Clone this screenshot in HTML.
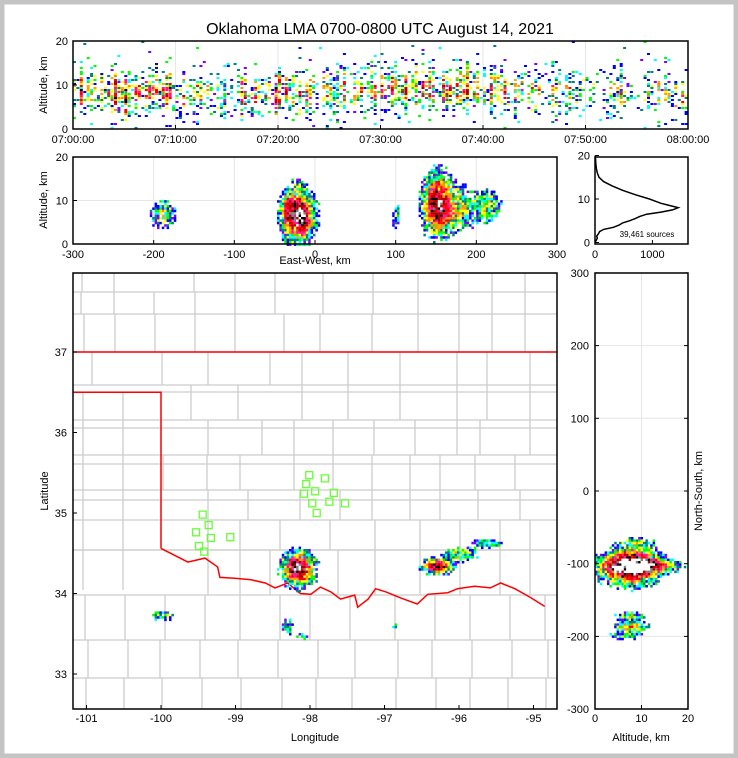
<!DOCTYPE html>
<html><head><meta charset="utf-8"><style>
html,body{margin:0;padding:0;background:#fff}
svg{display:block;font-family:"Liberation Sans","DejaVu Sans",sans-serif}
</style></head><body>
<svg id="fig" width="738" height="758" viewBox="0 0 738 758">
<rect x="2" y="2" width="734" height="754" fill="#fff" stroke="#c4c4c4" stroke-width="5"/>
<text x="380" y="34" font-size="16" text-anchor="middle">Oklahoma LMA 0700-0800 UTC August 14, 2021</text>
<g id="gTime"></g>
<g id="gEW"></g>
<g id="gHist"></g>
<g id="gMap"></g>
<g id="gNS"></g>
</svg>
<script>
// ---------- data ----------
const minuteActivity=[0.9,0.95,0.9,0.95,0.9,1,0.95,0.9,0.85,0.8,0.6,0.55,0.5,0.55,0.7,0.65,0.7,0.75,0.7,0.8,0.75,0.8,0.75,0.7,0.8,0.85,0.8,0.8,0.75,0.7,0.7,0.75,0.7,0.75,0.7,0.7,0.8,0.75,0.8,0.8,0.75,0.7,0.7,0.65,0.7,0.6,0.55,0.6,0.55,0.5,0.5,0.45,0.5,0.5,0.45,0.45,0.5,0.45,0.4,0.5];
const minuteAltMid=[8.5,8.5,8,8,8,7.5,8,8,8.5,8,7.5,8,8,8,7.5,7.5,7.5,7.5,8,8,8,8,8,8.5,8.5,8.5,8.5,8.5,9,9,9,9,9,9,9,8.5,8.5,8.5,9,9,9,9,8.5,8.5,8,8,8,8,8,8,7.5,7.5,7.5,8,8,8,8,8,7.5,7];
const timeTicks=["07:00:00","07:10:00","07:20:00","07:30:00","07:40:00","07:50:00","08:00:00"];
// storm cells: east-west km, north-south km, altitude km, spreads, weight
const cellEW=[-22,150,178,212,-190,-36,-18,98];
const cellNS=[-105,-102,-86,-70,-170,-185,-198,-186];
const cellAlt=[7,9.5,8.5,9,7,8,6,7];
const cellSEW=[12,11,13,11,10,5,5,4];
const cellSNS=[14,6,6,4,4,7,4,3];
const cellSAlt=[3.8,4.2,3.2,2.6,2,2.5,2,2.2];
const cellW=[1.0,1.0,0.4,0.35,0.35,0.3,0.25,0.22];
const histAlt=[0,1,1.5,2,2.5,3,3.5,4,4.5,5,5.5,6,6.5,7,7.5,8,8.5,9,9.5,10,11,12,13,14,15,16,17,18,19,20];
const histCount=[0,40,30,60,80,150,320,420,480,600,700,780,900,1150,1350,1450,1300,1150,1050,950,700,480,300,150,70,40,25,15,10,5];
const histTicksX=[0,1000];
const altTicks=[0,10,20];
const ewTicks=[-300,-200,-100,0,100,200,300];
const nsTicks=[300,200,100,0,-100,-200,-300];
const lonTicks=[-101,-100,-99,-98,-97,-96,-95];
const latTicks=[37,36,35,34,33];
const stationLon=[-98.01,-97.80,-98.05,-97.93,-97.68,-98.08,-97.97,-97.74,-97.53,-97.91,-99.44,-99.36,-99.53,-99.33,-99.07,-99.49,-99.42];
const stationLat=[35.47,35.43,35.36,35.27,35.25,35.24,35.12,35.14,35.12,35.00,34.98,34.85,34.76,34.69,34.70,34.59,34.52];
const borderLon=[-101.2,-100.0,-100.0];
const borderLat=[36.5,36.5,34.56];
const riverLon=[-100.0,-99.87,-99.64,-99.41,-99.24,-99.21,-99.01,-98.79,-98.60,-98.47,-98.30,-98.26,-98.13,-97.99,-97.86,-97.72,-97.59,-97.40,-97.36,-97.22,-97.12,-96.98,-96.77,-96.56,-96.42,-96.15,-96.02,-95.79,-95.58,-95.44,-95.25,-95.04,-94.85];
const riverLat=[34.56,34.50,34.39,34.44,34.33,34.20,34.19,34.17,34.13,34.07,34.13,34.10,34.00,33.99,34.08,34.02,33.93,33.98,33.83,33.93,34.06,34.02,33.94,33.87,33.99,34.01,34.06,34.09,34.07,34.13,34.06,33.95,33.84];

// ---------- helpers ----------
const NS="http://www.w3.org/2000/svg";
function mk(parent,tag,attrs,text){const e=document.createElementNS(NS,tag);for(const k in attrs)e.setAttribute(k,attrs[k]);if(text!==undefined)e.textContent=text;parent.appendChild(e);return e;}
function hash(a,b,c){let h=(a*374761393+b*668265263+c*2147483647)|0;h=(h^(h>>>13))*1274126177|0;h=h^(h>>>16);return ((h>>>0)%10000)/10000;}
const lowCols=["#0000ff","#7f00ff","#00ffff","#00ff00","#008080","#0000ff"];
function colorFor(v,h){
  if(v<0.2)return lowCols[Math.floor(h*6)%6];
  if(v<0.35)return ["#00ff00","#ffff00","#008080","#00ffff"][Math.floor(h*4)%4];
  if(v<0.5)return ["#ffff00","#ffa500","#ff8c00"][Math.floor(h*3)%3];
  if(v<0.7)return ["#ff0000","#ff1493"][Math.floor(h*2)%2];
  if(v<0.86)return "#b00000";
  if(v<0.96)return "#000000";
  if(v<1.06)return "#808080";
  return "#ffffff";
}
function frame(g,x,y,w,h,name){const r=mk(g,"rect",{x:x,y:y,width:w,height:h,fill:"none",stroke:"#000","stroke-width":1.5});}
function label(g,x,y,txt,anchor,size,name,rot){const a={x:x,y:y,"font-size":size,"text-anchor":anchor};if(rot)a.transform="rotate(-90 "+x+" "+y+")";const t=mk(g,"text",a,txt);return t;}
function density(a1,v1,a2,v2){let d=0;for(let i=0;i<cellW.length;i++){const z1=(v1-a1[i].c)/a1[i].s,z2=(v2-a2[i].c)/a2[i].s;d+=cellW[i]*Math.exp(-0.5*(z1*z1+z2*z2));}return d;}
function arr(c,s){return c.map((v,i)=>({c:v,s:s[i]}));}
function scatter(gd,x0,x1,y0,y1,step,seed,fn){
 for(let px=x0;px<x1;px+=step){for(let py=y0;py<y1;py+=step){
  const d=fn(px,py);if(d<0.02)continue;
  const ix=Math.round(px*5),iy=Math.round(py*5);
  const h=hash(ix,iy,seed);
  if(d*(0.25+1.1*h)>0.1){
   const v=d*(0.6+0.6*hash(ix,iy,seed+2));
   mk(gd,"rect",{x:px.toFixed(1),y:py.toFixed(1),width:step+0.1,height:step+0.1,fill:colorFor(v,hash(iy,ix,seed+4))});
  }
 }}
}

// ---------- time-height panel ----------
(function(){
 const g=document.getElementById('gTime');
 const X0=73,X1=688,Y0=129,Y1=41;
 const xs=t=>X0+(t/60)*(X1-X0), ys=a=>Y0-(a/20)*(Y0-Y1);
 for(let i=1;i<6;i++){const l=mk(g,"line",{x1:xs(i*10),x2:xs(i*10),y1:Y1,y2:Y0,stroke:"#e6e6e6"});}
 const gd=mk(g,"g",{});
 const ncol=Math.floor((X1-X0)/3.4);
 for(let c=0;c<ncol;c++){
  const t=c*60/ncol, m=Math.min(59,Math.floor(t));
  const act=minuteActivity[m], mid=minuteAltMid[m];
  const colAct=act*(0.2+1.1*hash(c,7,1));
  for(let r=0;r<44;r++){
   const alt=r*20/44;
   const z=(alt-mid)/3.4;
   const d=colAct*Math.exp(-0.5*z*z);
   const h=hash(c,r,3);
   if(h<d*0.95 || (h<0.012 && alt>2)){
    mk(gd,"rect",{x:xs(t).toFixed(1),y:(ys(alt)-2).toFixed(1),width:3,height:2,fill:colorFor(d*(0.3+0.7*hash(c,r,9)),hash(r,c,5))});
   }
  }
 }
 frame(g,X0,Y1,X1-X0,Y0-Y1,'time-panel-frame');
 altTicks.forEach(v=>{mk(g,"line",{x1:X0,x2:X0+4,y1:ys(v),y2:ys(v),stroke:"#000"});label(g,X0-5,ys(v)+4,String(v),"end",11,'time-y-tick');});
 timeTicks.forEach((s,i)=>{const x=xs(i*10);mk(g,"line",{x1:x,x2:x,y1:Y0,y2:Y0-4,stroke:"#000"});label(g,x,143,s,"middle",11,'time-x-tick');});
 label(g,47,85,"Altitude, km","middle",11,'time-y-axis-title',true);
})();

// ---------- east-west vs altitude ----------
(function(){
 const g=document.getElementById('gEW');
 const X0=73,X1=557,Y0=244,Y1=157;
 const xs=v=>X0+(v+300)/600*(X1-X0), ys=a=>Y0-(a/20)*(Y0-Y1);
 ewTicks.forEach(v=>{if(v>-300&&v<300){mk(g,"line",{x1:xs(v),x2:xs(v),y1:Y1,y2:Y0,stroke:"#e6e6e6"});}});
 mk(g,"line",{x1:X0,x2:X1,y1:ys(10),y2:ys(10),stroke:"#e6e6e6"});
 const A=arr(cellEW,cellSEW),B=arr(cellAlt,cellSAlt);
 const gd=mk(g,"g",{});
 scatter(gd,X0,X1,Y1,Y0,2.4,11,(px,py)=>density(A,(px-X0)/(X1-X0)*600-300,B,(Y0-py)/(Y0-Y1)*20));
 frame(g,X0,Y1,X1-X0,Y0-Y1,'ew-panel-frame');
 altTicks.forEach(v=>{mk(g,"line",{x1:X0,x2:X0+4,y1:ys(v),y2:ys(v),stroke:"#000"});label(g,X0-5,ys(v)+4,String(v),"end",11,'ew-y-tick');});
 ewTicks.forEach(v=>{mk(g,"line",{x1:xs(v),x2:xs(v),y1:Y0,y2:Y0-4,stroke:"#000"});label(g,xs(v),258,String(v),"middle",11,'ew-x-tick');});
 label(g,315,264,"East-West, km","middle",11,'ew-x-axis-title');
 label(g,47,200,"Altitude, km","middle",11,'ew-y-axis-title',true);
})();

// ---------- histogram ----------
(function(){
 const g=document.getElementById('gHist');
 const X0=595,X1=688,Y0=244,Y1=157,XMAX=1620;
 const xs=v=>X0+v/XMAX*(X1-X0), ys=a=>Y0-(a/20)*(Y0-Y1)-1.5;
 const pts=histAlt.map((a,i)=>xs(histCount[i]).toFixed(1)+","+ys(a).toFixed(1)).join(" ");
 const pl=mk(g,"polyline",{points:pts,fill:"none",stroke:"#000","stroke-width":1.5});
 
 frame(g,X0,Y1,X1-X0,Y0-Y1,'hist-panel-frame');
 altTicks.forEach(v=>{mk(g,"line",{x1:X0,x2:X0+4,y1:ys(v),y2:ys(v),stroke:"#000"});label(g,X0-5,ys(v)+4,String(v),"end",11,'hist-y-tick');});
 histTicksX.forEach(v=>{mk(g,"line",{x1:xs(v),x2:xs(v),y1:Y0,y2:Y0-4,stroke:"#000"});label(g,xs(v),258,String(v),"middle",11,'hist-x-tick');});
 label(g,647,237,"39,461 sources","middle",8,'source-count-label');
})();

// ---------- map ----------
(function(){
 const g=document.getElementById('gMap');
 const X0=73,X1=557,Y0=709,Y1=273;
 const lx=lon=>310+(lon+98)*74.5, ly=lat=>513-(lat-35)*80.5;
 const cp=mk(g,"clipPath",{id:"mapclip"});mk(cp,"rect",{x:X0,y:Y1,width:X1-X0,height:Y0-Y1});
 const gc=mk(g,"g",{"clip-path":"url(#mapclip)"});
 
 const rows=[[273,292,[82,114,194,235,275,323,373,418,459,492,525]],[292,314,[81,114,154,195,235,275,323,373,418,459,492,525]],[314,352,[84,115,155,195,235,284,320,372,418,459,492,525]],
 [392,428,[83,123]],[428,464,[83,123]],[464,500,[83,123]],[500,550,[83,123]],[550,590,[83,123]],
 [352,385,[92,162,208,270,302,348,400,457,487,530]],[385,420,[191,238,302,348,400,457,487,530]],[420,455,[208,262,294,333,374,415,457,480,530]],[455,490,[163,207,240,294,333,372,410,440,475,515]],[490,520,[208,248,300,340,372,410,440,478,520]],[520,550,[208,240,280,330,375,420,460,500,530]],[550,595,[208,240,270,338,375,420,460,500,530]],
 [595,640,[85,125,165,205,240,280,310,350,395,435,470,510,545]],[640,678,[88,128,160,200,238,278,318,355,398,432,472,512,548]],[678,709,[86,124,162,202,241,282,316,352,396,436,470,508,546]]];
 rows.forEach(r=>{mk(gc,"line",{x1:X0,x2:X1,y1:r[0],y2:r[0],stroke:"#cccccc","stroke-width":1.3});r[2].forEach(x=>mk(gc,"line",{x1:x,x2:x,y1:r[0],y2:r[1],stroke:"#cccccc","stroke-width":1.3}));});
 const b1=mk(g,"line",{x1:X0,x2:X1,y1:ly(37),y2:ly(37),stroke:"#ff0000","stroke-width":1.5});
 const b2=mk(g,"polyline",{points:borderLon.map((v,i)=>lx(v).toFixed(1)+","+ly(borderLat[i]).toFixed(1)).join(" "),fill:"none",stroke:"#ff0000","stroke-width":1.5,"clip-path":"url(#mapclip)"});
 const b3=mk(g,"polyline",{points:riverLon.map((v,i)=>lx(v).toFixed(1)+","+ly(riverLat[i]).toFixed(1)).join(" "),fill:"none",stroke:"#ff0000","stroke-width":1.5,"clip-path":"url(#mapclip)"});
 const A=arr(cellEW,cellSEW),B=arr(cellNS,cellSNS);
 const gd=mk(g,"g",{});
 scatter(gd,X0,X1,Y1,Y0,2.4,21,(px,py)=>density(A,(px-315)/0.807,B,(491-py)/0.727));
 stationLon.forEach((lon,i)=>{const s=mk(g,"rect",{x:lx(lon)-3.5,y:ly(stationLat[i])-3.5,width:7,height:7,fill:"none",stroke:"#66ff33","stroke-width":1.3});});
 frame(g,X0,Y1,X1-X0,Y0-Y1,'map-frame');
 lonTicks.forEach(v=>{mk(g,"line",{x1:lx(v),x2:lx(v),y1:Y0,y2:Y0-4,stroke:"#000"});label(g,lx(v),722,String(v),"middle",11,'lon-tick');});
 latTicks.forEach(v=>{mk(g,"line",{x1:X0,x2:X0+4,y1:ly(v),y2:ly(v),stroke:"#000"});label(g,X0-6,ly(v)+4,String(v),"end",11,'lat-tick');});
 label(g,315,741,"Longitude","middle",11,'longitude-axis-title');
 label(g,48,491,"Latitude","middle",11,'latitude-axis-title',true);
})();

// ---------- altitude vs north-south ----------
(function(){
 const g=document.getElementById('gNS');
 const X0=595,X1=688,Y0=709,Y1=273;
 const xs=a=>X0+a/20*(X1-X0), ys=v=>491-v*0.727;
 mk(g,"line",{x1:xs(10),x2:xs(10),y1:Y1,y2:Y0,stroke:"#e6e6e6"});
 nsTicks.forEach(v=>mk(g,"line",{x1:X0,x2:X1,y1:ys(v),y2:ys(v),stroke:"#e6e6e6"}));
 const A=arr(cellAlt,cellSAlt),B=arr(cellNS,cellSNS);
 const gd=mk(g,"g",{});
 scatter(gd,X0,X1,Y1,Y0,2.4,31,(px,py)=>density(A,(px-X0)/(X1-X0)*20,B,(491-py)/0.727));
 frame(g,X0,Y1,X1-X0,Y0-Y1,'ns-panel-frame');
 nsTicks.forEach(v=>{mk(g,"line",{x1:X0,x2:X0+4,y1:ys(v),y2:ys(v),stroke:"#000"});mk(g,"line",{x1:X1,x2:X1-4,y1:ys(v),y2:ys(v),stroke:"#000"});label(g,X0-6,ys(v)+4,String(v),"end",11,'ns-y-tick');});
 altTicks.forEach(v=>{mk(g,"line",{x1:xs(v),x2:xs(v),y1:Y0,y2:Y0-4,stroke:"#000"});label(g,xs(v),722,String(v),"middle",11,'ns-x-tick');});
 label(g,641,741,"Altitude, km","middle",11,'ns-x-axis-title');
 label(g,702,491,"North-South, km","middle",11,'ns-y-axis-title',true);
})();
</script>
</body></html>
